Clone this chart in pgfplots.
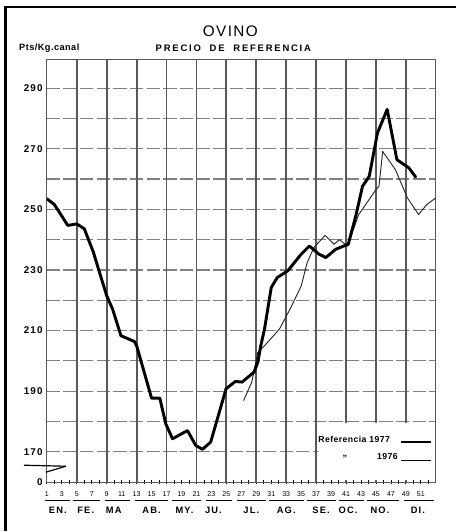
\documentclass[border=0pt]{standalone}
\usepackage{fontspec}
\setmainfont{Liberation Sans}
\newfontfamily\spaced[LetterSpace=12]{Liberation Sans}
\newfontfamily\lspaced[LetterSpace=5]{Liberation Sans}
\newfontfamily\titlefont[LetterSpace=9]{Liberation Sans}
\newfontfamily\subfont[LetterSpace=19]{Liberation Sans}
\usepackage{pgfplots}
\pgfplotsset{compat=1.18}
\pgfplotstableread{
w v
1 253.5
2 251.6
3.8 244.7
5 245.2
6 243.6
7.2 236
8 229.5
9 221.5
9.8 217
10.9 208.3
12.7 206.4
13 205
15 187.7
16.1 187.7
16.9 179.2
17.8 174.3
19.8 177
20.9 172.1
21.8 170.8
22.9 173.2
24.96 190.8
26.2 193.2
27.1 193
28.7 196.3
29.2 199.5
29.6 205
30.1 210.5
31 224.2
31.8 227.5
33.2 229.7
35 235.2
36.1 237.9
37.4 235.2
38.3 234.1
39.6 236.8
41.3 238.5
42.3 247.8
43.2 257.6
44.1 260.9
45.2 275.2
46.5 283
47.8 266.4
49.4 263.7
50.3 260.7
}\yrseventyseven
\pgfplotstableread{
w v
27.3 186.9
28.4 193
29.2 202.8
30.1 205
32.1 210.5
33.5 217
35 224.7
35.8 232.4
36.7 237.4
38.2 241.4
39.4 238.5
40.1 240
41.2 237.9
42.7 248.3
45 256.5
45.4 257.6
45.9 269.1
47.6 263.1
49.2 253.8
50.7 248.3
51.8 251.6
53 253.8
}\yrseventysix
\begin{document}
\begin{tikzpicture}
\begin{scope}[x=0.75pt,y=-0.75pt,shift={(-35.25pt,362.55pt)}]
\useasboundingbox (0,0) rectangle (457,532);
\end{scope}
\begin{axis}[
  at={(0pt,0pt)}, anchor=south west,
  scale only axis, width=292.5pt, height=317.9pt,
  xmin=1, xmax=53, ymin=160, ymax=299.5,
  axis line style={black!65, line width=0.8pt},
  xtick={1,3,...,51}, xticklabels={},
  minor xtick={2,4,...,52},
  xtick pos=left, ytick pos=left,
  major tick length=3pt, minor tick length=3pt, tick align=center,
  x tick style={black, line width=0.6pt},
  minor x tick style={black, line width=0.6pt},
  ytick={160,170,190,210,230,250,270,290},
  yticklabels={0,170,190,210,230,250,270,290},
  minor ytick={180,200,...,280},
  y tick style={draw=none},
  minor y tick style={draw=none},
  ymajorgrids, yminorgrids,
  major grid style={black!50, line width=0.85pt, dash pattern=on 10pt off 2.5pt},
  minor grid style={black!50, line width=0.85pt, dash pattern=on 10pt off 2.5pt},
  extra x ticks={5,9,...,49},
  extra x tick labels={},
  extra x tick style={grid=major, major tick length=0pt, major grid style={black!65, line width=1.4pt, solid}},
  yticklabel style={font=\spaced\bfseries\fontsize{7.4}{8}\selectfont, inner sep=1.5pt},
]
\addplot[black!85, line width=0.7pt, line join=round] table[x=w,y=v] {\yrseventysix};
\addplot[black, line width=2.2pt, line join=round, line cap=round] table[x=w,y=v] {\yrseventyseven};
\fill[white] (axis cs:37.25,160.8) rectangle (axis cs:52.85,179.6);
\end{axis}
\begin{scope}[x=0.75pt,y=-0.75pt,shift={(-35.25pt,362.55pt)}]
% frame
\draw[line width=2.2pt] (5.5,6) -- (5.5,532);
\draw[line width=1.4pt] (4.5,7) -- (457,7);
% titles
\node[font=\titlefont\fontsize{11.5}{12}\selectfont] at (231,31) {OVINO};
\node[font=\subfont\bfseries\fontsize{7.1}{8}\selectfont] at (234,48) {PRECIO\ \ DE\ \ REFERENCIA};
\node[font=\lspaced\bfseries\fontsize{6.9}{8}\selectfont, anchor=west, inner sep=0pt] at (19,48) {Pts/Kg.canal};
% week labels
\foreach \w in {1,3,...,51} \node[font=\fontsize{5.3}{6}\selectfont, inner sep=0pt] at ({47+(\w-1)*7.5},495) {\w};
% month underlines and labels
\foreach \a/\b/\c/\m in {45/70/58/EN., 73/100/86/FE., 105/130/114/MA, 135/168/152/AB., 172/202/185/MY., 207/233/214/JU., 238/267/252/JL., 270/305/287/AG., 308/337/322/SE., 340/365/349/OC., 368/400/381/NO., 405/435/419/DI.}{
  \draw[line width=0.7pt] (\a,501.5) -- (\b,501.5);
  \node[font=\spaced\bfseries\fontsize{7}{8}\selectfont, inner sep=0pt] at (\c,512) {\m};
}
% legend
\node[font=\lspaced\bfseries\fontsize{6.5}{7}\selectfont, anchor=west, inner sep=0pt] at (319,441) {Referencia 1977};
\draw[line width=1.8pt] (402,443.5) -- (432,443.5);
\node[font=\bfseries\fontsize{7}{7}\selectfont, inner sep=0pt] at (346,458) {„};
\node[font=\lspaced\bfseries\fontsize{6.5}{7}\selectfont, anchor=east, inner sep=0pt] at (399,458) {1976};
\draw[line width=0.6pt] (402,461.5) -- (432,461.5);
% axis break symbol
\draw[line width=0.9pt] (24,466.5) -- (66,467.5);
\draw[line width=0.9pt] (46,473.5) -- (66,467.5);
\end{scope}
\end{tikzpicture}
\end{document}
